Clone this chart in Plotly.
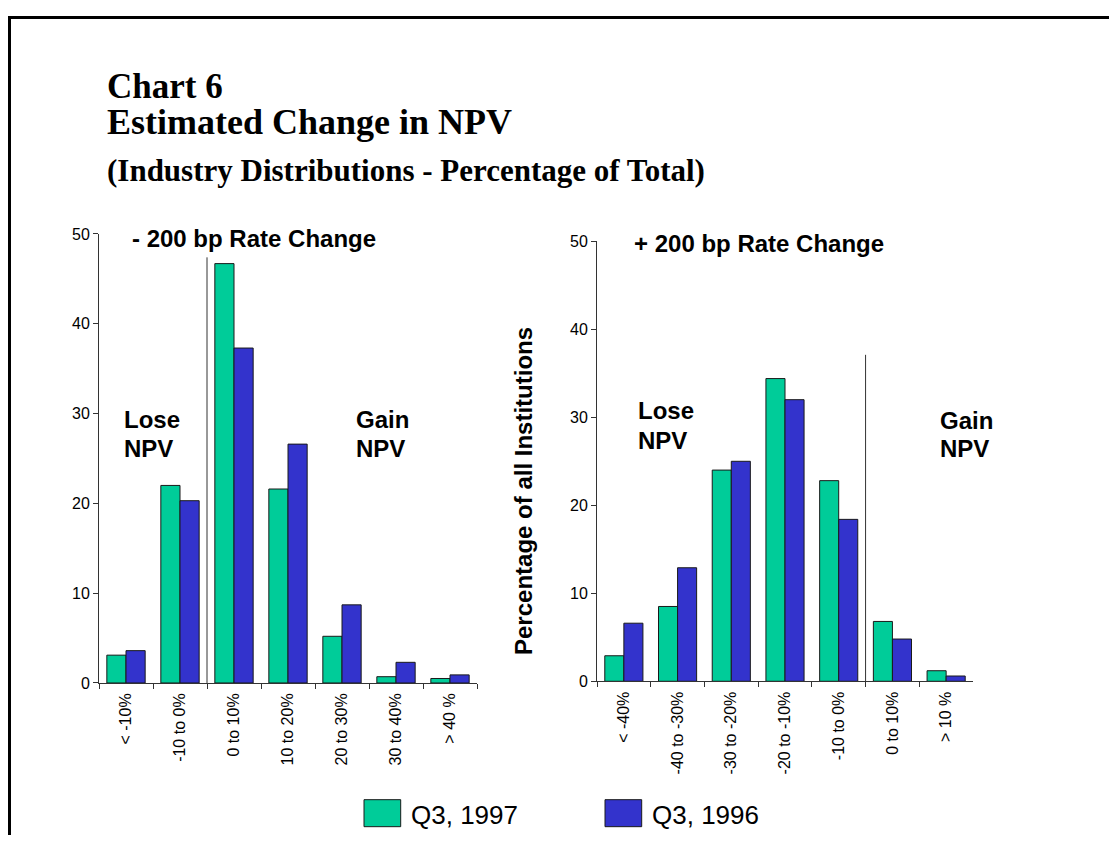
import plotly.graph_objects as go

# measured on the rendered page: x_page = 8 + x_fig, y_page = 17 + 0.9795 * y_fig
OFF_X, OFF_Y, SY = 8, 17, 0.9795
W, H = 1117 - 2 * OFF_X, 828

# data
cats_minus = ["< -10%", "-10 to 0%", "0 to 10%", "10 to 20%", "20 to 30%", "30 to 40%", "> 40 %"]
q3_1997_minus = [3.1, 22.0, 46.7, 21.6, 5.2, 0.7, 0.5]
q3_1996_minus = [3.6, 20.3, 37.3, 26.6, 8.7, 2.3, 0.9]

cats_plus = ["< -40%", "-40 to -30%", "-30 to -20%", "-20 to -10%", "-10 to 0%", "0 to 10%", "> 10 %"]
q3_1997_plus = [2.9, 8.5, 24.0, 34.4, 22.8, 6.8, 1.2]
q3_1996_plus = [6.6, 12.9, 25.0, 32.0, 18.4, 4.8, 0.6]

GREEN = "#00CC99"
BLUE = "#3333CC"
EDGE = "#1a1a1a"


def px_x(v):
    return (v - OFF_X) / W


def px_y(v):
    return 1 - (v - OFF_Y) / SY / H


fig = go.Figure()
for cats, a, b, xa, ya in [
    (cats_minus, q3_1997_minus, q3_1996_minus, "x", "y"),
    (cats_plus, q3_1997_plus, q3_1996_plus, "x2", "y2"),
]:
    fig.add_trace(go.Bar(x=cats, y=a, name="Q3, 1997", marker=dict(color=GREEN, line=dict(color=EDGE, width=1)),
                         xaxis=xa, yaxis=ya, showlegend=False))
    fig.add_trace(go.Bar(x=cats, y=b, name="Q3, 1996", marker=dict(color=BLUE, line=dict(color=EDGE, width=1)),
                         xaxis=xa, yaxis=ya, showlegend=False))

tick_font = dict(family="Liberation Sans, Arial", size=16, color="black")
xax = dict(showline=True, linecolor="#333", linewidth=1, ticks="outside", ticklen=5, tickcolor="#333",
           tickson="boundaries", tickangle=-90, tickfont=tick_font, ticklabelstandoff=3,
           showgrid=False, zeroline=False, fixedrange=True)
yax = dict(range=[0, 50], tickvals=[0, 10, 20, 30, 40, 50], showline=True, linecolor="#333", linewidth=1,
           ticks="outside", ticklen=5, tickcolor="#333", tickfont=tick_font, showgrid=False, zeroline=False,
           fixedrange=True)

fig.update_layout(
    width=W, height=H,
    margin=dict(l=0, r=0, t=0, b=0),
    paper_bgcolor="white", plot_bgcolor="white",
    barmode="group", bargap=0.29, bargroupgap=0,
    xaxis=dict(xax, domain=[px_x(99), px_x(477)], anchor="y"),
    yaxis=dict(yax, domain=[px_y(684), px_y(235)], anchor="x"),
    xaxis2=dict(xax, domain=[px_x(597), px_x(973)], anchor="y2"),
    yaxis2=dict(yax, domain=[px_y(682.3), px_y(242.3)], anchor="x2"),
)

shapes = [
    # page frame (top and left edges)
    dict(type="line", xref="paper", yref="paper", x0=px_x(9.5), x1=1.01, y0=px_y(18.5), y1=px_y(18.5),
         line=dict(color="black", width=3)),
    dict(type="line", xref="paper", yref="paper", x0=px_x(9.5), x1=px_x(9.5), y0=px_y(17), y1=-0.01,
         line=dict(color="black", width=3)),
    # lose / gain dividers
    dict(type="line", xref="x", yref="y", x0=1.5, x1=1.5, y0=0, y1=47.4, line=dict(color="#333", width=1)),
    dict(type="line", xref="x2", yref="y2", x0=4.5, x1=4.5, y0=0, y1=37.1, line=dict(color="#333", width=1)),
    # legend swatches
    dict(type="rect", xref="paper", yref="paper", x0=px_x(364), x1=px_x(400.7), y0=px_y(827.7), y1=px_y(800.7),
         fillcolor=GREEN, line=dict(color=EDGE, width=1)),
    dict(type="rect", xref="paper", yref="paper", x0=px_x(605), x1=px_x(641.7), y0=px_y(827.7), y1=px_y(800.7),
         fillcolor=BLUE, line=dict(color=EDGE, width=1)),
]
fig.update_layout(shapes=shapes)

serif = "Liberation Serif, Times New Roman"
sans = "Liberation Sans, Arial"


def note(text, x, y, size, family=sans, bold=True, angle=0, xanchor="left"):
    t = f"<b>{text}</b>" if bold else text
    fig.add_annotation(text=t, xref="paper", yref="paper", x=px_x(x), y=px_y(y), xanchor=xanchor,
                       yanchor="middle", showarrow=False, textangle=angle,
                       font=dict(family=family, size=size, color="black"))


note("Chart 6", 105, 88, 35, family=serif)
note("Estimated Change in NPV", 105, 123, 36, family=serif)
note("(Industry Distributions - Percentage of Total)", 105, 172, 31, family=serif)

note("- 200 bp Rate Change", 130, 240, 24)
note("+ 200 bp Rate Change", 632, 245, 24)

note("Lose", 122, 421, 24)
note("NPV", 122, 450, 24)
note("Gain", 354, 421, 24)
note("NPV", 354, 450, 24)
note("Lose", 636, 411.7, 24)
note("NPV", 636, 441.5, 24)
note("Gain", 938, 422, 24)
note("NPV", 938, 450, 24)

note("Percentage of all Institutions", 524, 492, 24, angle=-90, xanchor="center")

note("Q3, 1997", 409, 816, 26, bold=False)
note("Q3, 1996", 650, 816, 26, bold=False)

fig.write_html("out.html")
